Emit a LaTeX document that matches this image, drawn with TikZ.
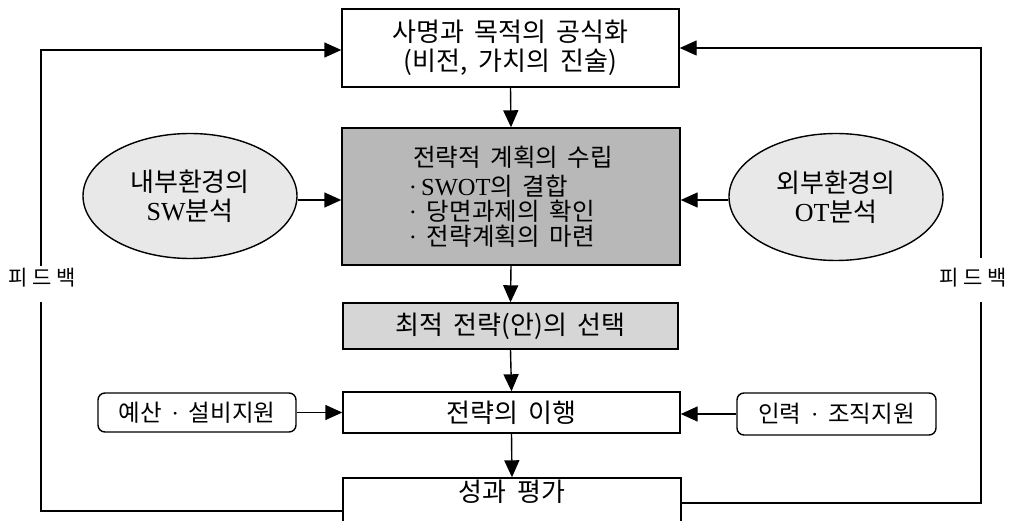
\documentclass[tikz,border=0pt]{standalone}
\usepackage{fontspec}
\setmainfont{Liberation Serif}
\newfontfamily\kr[WordSpace=1.8]{Noto Sans CJK KR}
\usetikzlibrary{arrows.meta,shapes.geometric}
\newcommand\lt[1]{{\rmfamily #1}}
\newcommand\mdot{{\rmfamily\textperiodcentered}}
\definecolor{darkfill}{HTML}{B8B8B8}
\definecolor{midfill}{HTML}{D6D6D6}
\definecolor{lightfill}{HTML}{E8E8E8}
\begin{document}
\begin{tikzpicture}[x=1pt,y=-1pt,
  every node/.style={font=\kr\fontsize{26}{27}\selectfont},
  box/.style={draw, line width=1.4pt, rectangle, inner sep=0pt},
  oval/.style={draw, line width=1.4pt, ellipse, inner sep=0pt, fill=lightfill, align=center,
    font=\kr\fontsize{26}{29}\selectfont},
  sidebox/.style={draw, line width=1.4pt, rectangle, rounded corners=7pt, inner sep=0pt,
    font=\kr\fontsize{23.5}{26}\selectfont},
  lbl/.style={font=\kr\fontsize{21}{24}\selectfont, inner sep=0pt},
  ln/.style={line width=1.4pt},
  arr/.style={line width=1.4pt, -{Triangle[length=17pt,width=15pt]}}
]
\useasboundingbox (0,0) rectangle (1021,521);

% main column
\node[box, minimum width=337pt, minimum height=78pt, align=center] (top) at (510.5,48)
  {사명과 목적의 공식화\\[2pt](비전, 가치의 진술)};
\node[box, fill=darkfill, minimum width=338pt, minimum height=137pt, align=left,
  font=\kr\fontsize{24.5}{25}\selectfont] (plan) at (511,196.5)
  {\,전략적 계획의 수립\\[4pt]\mdot\,\lt{SWOT}의 결합\\\mdot\ 당면과제의 확인\\\mdot\ 전략계획의 마련};
\node[box, fill=midfill, minimum width=335pt, minimum height=46pt] (opt) at (510.5,326)
  {최적 전략(안)의 선택};
\node[box, minimum width=337pt, minimum height=41pt] (exec) at (511.5,412.5)
  {전략의 이행};
\node[box, minimum width=338pt, minimum height=67pt] (eval) at (512,511.5) {};
\node[inner sep=0pt] (evaltxt) at (512,492) {성과 평가};

% side inputs
\node[oval, minimum width=214pt, minimum height=125pt] (inner) at (190,196)
  {내부환경의\\\lt{SW}분석};
\node[oval, minimum width=214pt, minimum height=127pt] (outer) at (836,197)
  {외부환경의\\\lt{OT}분석};
\node[sidebox, minimum width=198pt, minimum height=39pt] (budget) at (197,412.5)
  {예산 \mdot\ 설비지원};
\node[sidebox, minimum width=199pt, minimum height=42pt] (staff) at (836.5,414)
  {인력 \mdot\ 조직지원};

% feedback labels
\node[lbl] (fbL) at (42,278) {피\hspace{5pt}드\hspace{5pt}백};
\node[lbl] (fbR) at (973,278) {피\hspace{5pt}드\hspace{5pt}백};

% feedback path coordinates
\coordinate (lb) at (41,511);
\coordinate (l3) at (41,302);
\coordinate (l2) at (41,266);
\coordinate (lt) at (41,50);
\coordinate (rb) at (981,503);
\coordinate (r3) at (981,302);
\coordinate (r2) at (981,258);
\coordinate (rt) at (981,48);

% main flow
\draw[arr] (top.south) -- (plan.north);
\draw[arr] (plan.south) -- (opt.north);
\draw[arr] (opt.south) -- (exec.north);
\draw[arr] (exec.south) -- (eval.north);

% inputs
\draw[arr] ([yshift=-4pt]inner.east) -- ([yshift=-4pt]inner.east -| plan.west);
\draw[arr] ([yshift=-3pt]outer.west) -- ([yshift=-3pt]outer.west -| plan.east);
\draw[arr] (budget.east) -- (budget.east -| exec.west);
\draw[arr] (staff.west) -- (staff.west -| exec.east);

% feedback loops
\draw[ln] (lb -| eval.west) -- (lb) -- (l3);
\draw[arr] (l2) -- (lt) -- (lt -| top.west);
\draw[ln] (rb -| eval.east) -- (rb) -- (r3);
\draw[arr] (r2) -- (rt) -- (rt -| top.east);
\end{tikzpicture}
\end{document}
